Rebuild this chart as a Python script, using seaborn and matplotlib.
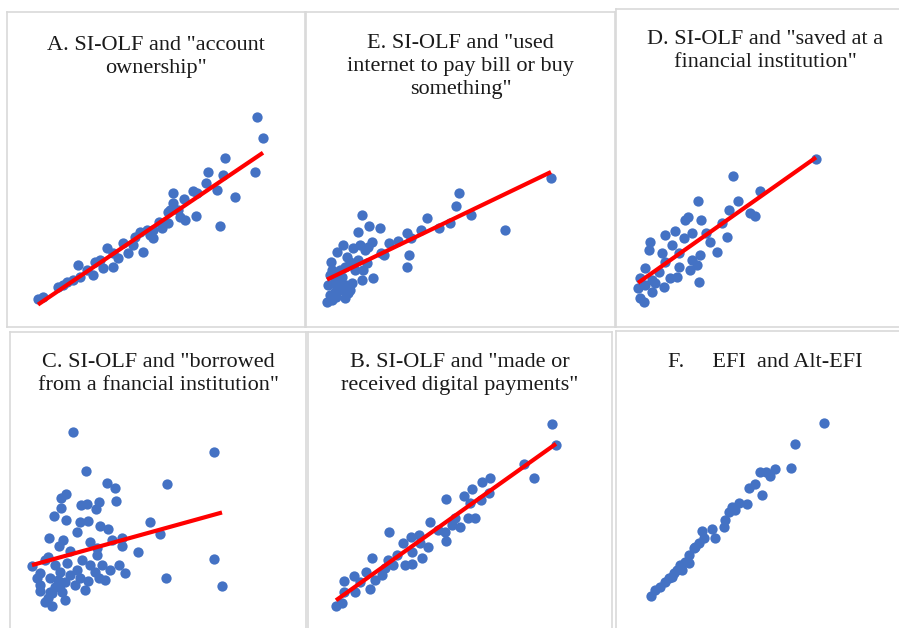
import matplotlib
matplotlib.use("Agg")
import matplotlib.pyplot as plt
import seaborn as sns
import numpy as np

# Scatter data (arbitrary index units per panel) -----------------------------------------------------------------

a_x = [250, 256, 218, 248, 201, 216, 199, 210, 228, 166, 186, 177, 190, 213, 189, 178, 173, 166, 163, 161,
       161, 152, 146, 140, 133, 146, 128, 136, 116, 121, 100, 106, 93, 106, 96, 71, 80, 86, 73, 66,
       60, 56, 51, 36, 31, 88, 111, 126, 143, 155, 171]
a_y = [210, 189, 169, 155, 155, 152, 144, 137, 130, 134, 136, 128, 134, 101, 111, 107, 110, 124, 117, 115,
       104, 105, 97, 97, 95, 89, 90, 75, 84, 74, 79, 74, 67, 60, 59, 62, 57, 52, 50, 47,
       45, 42, 40, 30, 28, 65, 69, 82, 92, 99, 117]

e_x = [245, 153, 150, 165, 199, 121, 144, 133, 115, 101, 105, 103, 101, 92, 83, 78, 75, 74, 63, 56,
       52, 66, 62, 54, 47, 37, 31, 41, 25, 26, 61, 67, 56, 49, 46, 36, 31, 22, 29, 42,
       26, 21, 32, 52, 39, 44, 59, 34, 24, 57, 40, 24, 34, 39, 29, 44, 30]
e_y = [149, 134, 121, 112, 97, 109, 104, 99, 97, 94, 89, 72, 60, 86, 84, 72, 74, 99, 101, 112,
       95, 85, 80, 82, 79, 82, 75, 70, 65, 57, 64, 49, 47, 57, 44, 50, 40, 42, 35, 34,
       27, 25, 45, 67, 60, 65, 77, 57, 52, 57, 42, 32, 37, 29, 47, 37, 30]

d_x = [200, 117, 144, 122, 82, 113, 134, 139, 72, 85, 69, 106, 59, 49, 90, 76, 111, 94, 34, 56,
       33, 46, 63, 84, 101, 76, 49, 81, 29, 63, 74, 43, 24, 54, 36, 83, 61, 29, 48, 22,
       36, 24, 28, 39, 68]
d_y = [168, 151, 136, 126, 126, 117, 114, 111, 110, 107, 107, 104, 96, 92, 94, 94, 90, 85, 85, 82,
       77, 74, 74, 72, 75, 67, 65, 62, 59, 60, 57, 55, 49, 49, 47, 45, 50, 42, 40, 39,
       35, 29, 25, 44, 89]

c_x = [63, 204, 76, 157, 97, 105, 56, 51, 106, 71, 77, 89, 86, 51, 44, 56, 70, 78, 90, 98,
       140, 150, 67, 39, 53, 80, 102, 112, 112, 49, 60, 87, 128, 38, 72, 87, 204, 22, 57, 92,
       109, 80, 67, 50, 30, 115, 40, 78, 89, 156, 55, 65, 212, 45, 30, 52, 42, 35, 42, 27,
       35, 45, 60, 70, 85, 95, 50, 75, 38, 100, 55, 30, 40, 48]
c_y = [198, 178, 159, 146, 147, 142, 136, 132, 129, 125, 126, 128, 121, 122, 114, 110, 108, 109, 104, 101,
       108, 96, 98, 92, 90, 88, 90, 92, 84, 84, 79, 82, 78, 73, 70, 75, 71, 64, 67, 65,
       65, 65, 60, 58, 57, 57, 52, 49, 52, 52, 48, 45, 44, 43, 39, 38, 37, 28, 24, 52,
       70, 65, 55, 52, 58, 50, 45, 40, 32, 60, 30, 45, 38, 50]

b_x = [244, 248, 216, 226, 182, 174, 164, 156, 138, 181, 173, 162, 167, 160, 147, 144, 152, 122, 137, 130,
       138, 111, 103, 112, 120, 81, 95, 104, 89, 97, 104, 85, 77, 64, 74, 58, 67, 52, 46, 62,
       47, 36, 36, 34, 28, 80, 114]
b_y = [206, 185, 166, 152, 152, 148, 141, 134, 131, 137, 130, 127, 112, 112, 112, 105, 103, 108, 98, 100,
       89, 95, 93, 87, 83, 98, 87, 78, 75, 65, 66, 65, 62, 72, 55, 58, 50, 48, 54, 41,
       38, 49, 38, 27, 24, 70, 72]

f_x = [208, 179, 175, 159, 154, 144, 150, 139, 133, 146, 131, 123, 116, 119, 113, 109, 108, 99, 96, 86,
       88, 83, 78, 73, 69, 64, 61, 58, 53, 49, 44, 39, 35, 66, 73, 79, 56]
f_y = [207, 186, 162, 161, 154, 158, 158, 146, 142, 135, 126, 127, 123, 120, 118, 110, 103, 92, 101, 99,
       92, 87, 82, 75, 68, 65, 60, 57, 52, 48, 43, 40, 34, 60, 67, 83, 53]

titles = {
    "A": 'A. SI-OLF and "account\nownership"',
    "E": 'E. SI-OLF and "used\ninternet to pay bill or buy\nsomething"',
    "D": 'D. SI-OLF and "saved at a\nfinancial institution"',
    "C": 'C. SI-OLF and "borrowed\nfrom a fnancial institution"',
    "B": 'B. SI-OLF and "made or\nreceived digital payments"',
    "F": 'F.     EFI  and Alt-EFI',
}

# panel boxes in figure pixels: left, top, right, bottom, title offset
boxes = {
    "A": (7, 12, 305, 327, 24),
    "E": (306, 12, 615, 327, 22),
    "D": (616, 9, 914, 327, 21),
    "C": (10, 332, 306, 630, 21),
    "B": (308, 332, 612, 630, 21),
    "F": (616, 331, 914, 630, 22),
}

panels = {
    "A": (a_x, a_y, True),
    "E": (e_x, e_y, True),
    "D": (d_x, d_y, True),
    "C": (c_x, c_y, True),
    "B": (b_x, b_y, True),
    "F": (f_x, f_y, False),
}

sns.set_style("white")
plt.rcParams['font.family'] = ['Liberation Serif', 'DejaVu Serif']

W, H = 899, 628
fig = plt.figure(figsize=(W / 100, H / 100), dpi=100)

for key, (xs, ys, fit) in panels.items():
    l, t, r, b, off = boxes[key]
    ax = fig.add_axes([l / W, 1 - b / H, (r - l) / W, (b - t) / H])
    if fit:
        sns.regplot(x=np.array(xs), y=np.array(ys), ax=ax, ci=None, truncate=True,
                    scatter_kws=dict(s=55, color="#4472C4", linewidths=0, alpha=1),
                    line_kws=dict(color="#FF0000", lw=3, solid_capstyle="butt"))
    else:
        sns.scatterplot(x=xs, y=ys, ax=ax, s=55, color="#4472C4", linewidth=0)
    ax.set_xlim(0, r - l)
    ax.set_ylim(0, b - t)
    ax.set_xticks([])
    ax.set_yticks([])
    ax.set_xlabel("")
    ax.set_ylabel("")
    for s in ax.spines.values():
        s.set_color("#d9d9d9")
        s.set_linewidth(1.2)
    ax.text(0.5, 1 - off / (b - t), titles[key], transform=ax.transAxes, ha="center", va="top",
            fontsize=16, color="#1a1a1a", linespacing=1.28)

plt.savefig("out.png", dpi=100)
